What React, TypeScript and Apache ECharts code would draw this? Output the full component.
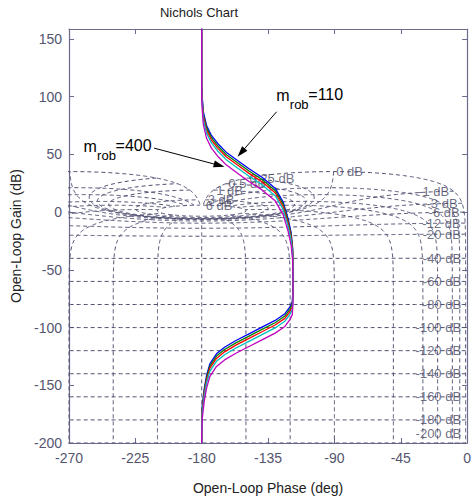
import React, { useEffect, useRef } from "react";
import * as echarts from "echarts";

// ---------- axes ----------
const phaseMin = -270;
const phaseMax = 0;
const phaseStep = 45;
const gainMin = -200;
const gainMax = 158.7;
const gainStep = 50;

// ---------- Nichols grid levels (closed-loop) ----------
const closedLoopGainsDb = [6, 3, 1, 0.5, 0.25, 0, -1, -3, -6, -12, -20, -40, -60, -80, -100, -120, -140, -160, -180, -200];
const closedLoopPhasesDeg = [-1, -5, -10, -20, -30, -50, -90, -120, -150, -180, -210, -240, -270, -310, -330, -340, -350, -355, -359];

// ---------- open-loop responses [phase deg, gain dB] ----------
const seriesNames = ["m_rob=110", "m_rob 2", "m_rob 3", "m_rob 4", "m_rob=400"];
const seriesColors = ["#0000ff", "#008000", "#ff0000", "#00bfbf", "#bf00bf"];

const curve110 = [[-180,159],[-180,110],[-179.6,99],[-178.9,87],[-176.7,75],[-173.4,66.5],[-169,59.3],[-163.4,52],[-155.7,44.8],[-147.9,37.6],[-139.1,30.3],[-130.2,20.8],[-124.7,8.7],[-121.4,-5.7],[-119.3,-18],[-118.3,-31],[-118.1,-46],[-118.1,-68],[-118.6,-78],[-120.3,-82.3],[-123.6,-88],[-130.2,-93.8],[-139.1,-99.6],[-147.9,-105.4],[-156.8,-111.2],[-164.5,-117],[-170,-122.7],[-174.5,-131.4],[-176.7,-141.5],[-178.3,-153],[-179.6,-167.5],[-180,-182],[-180,-200]];
const curve2 = [[-180,159],[-180,108],[-179.6,97],[-178.9,85],[-176.7,73],[-173.4,64.5],[-169,57.3],[-163.4,50],[-155.7,42.8],[-147.9,35.6],[-139.1,28.3],[-130.2,18.8],[-124.7,6.7],[-121.4,-7.7],[-119.3,-20],[-118.3,-33],[-118.1,-48],[-118.1,-70],[-118.6,-80],[-120.3,-84.3],[-123.6,-90],[-130.2,-95.8],[-139.1,-101.6],[-147.9,-107.4],[-156.8,-113.2],[-164.5,-119],[-170,-124.7],[-174.5,-133.4],[-176.7,-143.5],[-178.3,-155],[-179.6,-169.5],[-180,-184],[-180,-200]];
const curve3 = [[-180,159],[-180,106],[-179.6,95],[-178.9,83],[-176.7,71],[-173.4,62.5],[-169,55.3],[-163.4,48],[-155.7,40.8],[-147.9,33.6],[-139.1,26.3],[-130.2,16.8],[-124.7,4.7],[-121.4,-9.7],[-119.3,-22],[-118.3,-35],[-118.1,-50],[-118.1,-72],[-118.6,-82],[-120.3,-86.3],[-123.6,-92],[-130.2,-97.8],[-139.1,-103.6],[-147.9,-109.4],[-156.8,-115.2],[-164.5,-121],[-170,-126.7],[-174.5,-135.4],[-176.7,-145.5],[-178.3,-157],[-179.6,-171.5],[-180,-186],[-180,-200]];
const curve4 = [[-180,159],[-180,103.5],[-179.6,92.5],[-178.9,80.5],[-176.7,68.5],[-173.4,60],[-169,52.8],[-163.4,45.5],[-155.7,38.3],[-147.9,31.1],[-139.1,23.8],[-130.2,14.3],[-124.7,2.2],[-121.4,-12.2],[-119.3,-24.5],[-118.3,-37.5],[-118.1,-52.5],[-118.1,-74.5],[-118.6,-84.5],[-120.3,-88.8],[-123.6,-94.5],[-130.2,-100.3],[-139.1,-106.1],[-147.9,-111.9],[-156.8,-117.7],[-164.5,-123.5],[-170,-129.2],[-174.5,-137.9],[-176.7,-148],[-178.3,-159.5],[-179.6,-174],[-180,-188.5],[-180,-200]];
const curve400 = [[-180,159],[-180,99],[-179.6,88],[-178.9,76],[-176.7,64],[-173.4,55.5],[-169,48.3],[-163.4,41],[-155.7,33.8],[-147.9,26.6],[-139.1,19.3],[-130.2,9.8],[-124.7,-2.3],[-121.4,-16.7],[-119.3,-29],[-118.3,-42],[-118.1,-57],[-118.1,-79],[-118.6,-89],[-120.3,-93.3],[-123.6,-99],[-130.2,-104.8],[-139.1,-110.6],[-147.9,-116.4],[-156.8,-122.2],[-164.5,-128],[-170,-133.7],[-174.5,-142.4],[-176.7,-152.5],[-178.3,-164],[-179.6,-178.5],[-180,-193],[-180,-200]];
const curves = [curve110, curve2, curve3, curve4, curve400];

// ---------- annotations (data coords) ----------
const annot110Text = [-129.4, 101.5];
const annot110From = [-129.2, 87];
const annot110To = [-155.7, 48];
const annot400Text = [-260.1, 57.3];
const annot400From = [-212.3, 55.5];
const annot400To = [-164.5, 39.3];

const GRID_COLOR = "#4e4e70";
const AXIS_COLOR = "#6c6c8c";
const LABEL_COLOR = "#4a4a66";
const FONT = "Liberation Sans, Arial, sans-serif";

function openLoop(mDb: number, psiDeg: number): [number, number] {
  const m = Math.pow(10, mDb / 20);
  const psi = (psiDeg * Math.PI) / 180;
  const dr = 1 - m * Math.cos(psi);
  const di = -m * Math.sin(psi);
  const mag = m / Math.hypot(dr, di);
  const ph = psiDeg - (Math.atan2(di, dr) * 180) / Math.PI;
  return [ph, 20 * Math.log10(mag)];
}

function gainContour(mDb: number) {
  const pts: number[][] = [];
  const step = mDb <= -40 ? 2 : 0.25;
  for (let p = -1; p >= -359.0001; p -= step) pts.push(openLoop(mDb, p));
  pts.push(openLoop(mDb, -359));
  return pts;
}

function phaseContour(psi: number) {
  const gs: number[] = [];
  for (let g = -215; g < -25; g += 1) gs.push(g);
  for (let g = -25; g < -1; g += 0.05) gs.push(g);
  for (let g = -1; g < 1; g += 0.005) gs.push(g);
  for (let g = 1; g <= 6.0001; g += 0.05) gs.push(g);
  return gs.map((g) => openLoop(g, psi));
}

export default function App() {
  const ref = useRef<HTMLDivElement>(null);
  useEffect(() => {
    const chart = echarts.init(ref.current!, null, { renderer: "svg" });
    const series: any[] = [];
    closedLoopGainsDb.forEach((g) => {
      series.push({
        type: "line", data: gainContour(g), showSymbol: false, symbol: "none", silent: true, clip: true,
        lineStyle: { color: GRID_COLOR, width: 1, type: [4, 3] }, z: 1,
      });
    });
    closedLoopPhasesDeg.forEach((p) => {
      series.push({
        type: "line", data: phaseContour(p), showSymbol: false, symbol: "none", silent: true, clip: true,
        lineStyle: { color: GRID_COLOR, width: 1, type: [4, 3] }, z: 1,
      });
    });
    // gain contour labels
    series.push({
      type: "scatter", silent: true, symbol: "circle", symbolSize: 1, itemStyle: { color: "rgba(0,0,0,0)" }, z: 2,
      data: closedLoopGainsDb.map((g) => {
        const pt = openLoop(g, -1);
        const pos = g >= 0 ? "right" : "left";
        return {
          value: pt,
          label: {
            show: true, formatter: `${g} dB`, position: pos, distance: g >= 0 ? 2 : 4,
            color: LABEL_COLOR, fontSize: 13, fontFamily: FONT,
            offset: g === -200 ? [0, -10] : [0, 0],
          },
        };
      }),
    });
    curves.forEach((c, i) => {
      series.push({
        name: seriesNames[i], type: "line", data: c, showSymbol: false, symbol: "none", clip: true,
        lineStyle: { color: seriesColors[i], width: 1.3 }, z: 3,
      });
    });

    const axisCommon = {
      type: "value",
      axisLine: { show: true, onZero: false, lineStyle: { color: AXIS_COLOR, width: 1.2 } },
      axisTick: { show: true, inside: true, length: 5, lineStyle: { color: AXIS_COLOR } },
      splitLine: { show: false },
    };
    chart.setOption({
      animation: false,
      grid: { left: 69, right: 1, top: 29, bottom: 57, containLabel: false },
      xAxis: [
        {
          ...axisCommon, position: "bottom", min: phaseMin, max: phaseMax, interval: phaseStep,
          axisLabel: { color: "#55556f", fontSize: 14, fontFamily: FONT, margin: 8 },
          name: "Open-Loop Phase (deg)", nameLocation: "middle", nameGap: 38,
          nameTextStyle: { color: "#222", fontSize: 14, fontFamily: FONT },
        },
        { ...axisCommon, position: "top", min: phaseMin, max: phaseMax, interval: phaseStep, axisLabel: { show: false } },
      ],
      yAxis: [
        {
          ...axisCommon, position: "left", min: gainMin, max: gainMax, interval: gainStep,
          axisLabel: {
            color: "#55556f", fontSize: 14, fontFamily: FONT, margin: 7,
            formatter: (v: number) => (Math.abs(v % gainStep) < 1e-6 ? String(v) : ""),
          },
          name: "Open-Loop Gain (dB)", nameLocation: "middle", nameGap: 44,
          nameTextStyle: { color: "#222", fontSize: 14, fontFamily: FONT },
        },
        { ...axisCommon, position: "right", min: gainMin, max: gainMax, interval: gainStep, axisLabel: { show: false } },
      ],
      series,
    });

    const px = (p: number[]) => chart.convertToPixel({ xAxisIndex: 0, yAxisIndex: 0 }, p) as number[];
    const arrow = (from: number[], to: number[]) => {
      const a = px(from);
      const b = px(to);
      const dx = b[0] - a[0];
      const dy = b[1] - a[1];
      const len = Math.hypot(dx, dy);
      const ux = dx / len, uy = dy / len;
      const nx = -uy, ny = ux;
      const hl = 11, hw = 3.5;
      const bx = b[0] - ux * hl, by = b[1] - uy * hl;
      return [
        { type: "line", shape: { x1: a[0], y1: a[1], x2: bx + ux * 2, y2: by + uy * 2 }, style: { stroke: "#000", lineWidth: 1 }, z: 10 },
        { type: "polygon", shape: { points: [[b[0], b[1]], [bx + nx * hw, by + ny * hw], [bx - nx * hw, by - ny * hw]] }, style: { fill: "#000" }, z: 10 },
      ];
    };
    const label = (anchor: number[], value: string) => {
      const p = px(anchor);
      return [
        { type: "text", x: p[0], y: p[1], style: { text: "m", font: `16px ${FONT}`, fill: "#000", verticalAlign: "middle", align: "left" }, z: 10 },
        { type: "text", x: p[0] + 13.5, y: p[1] + 9, style: { text: "rob", font: `13px ${FONT}`, fill: "#000", verticalAlign: "middle", align: "left" }, z: 10 },
        { type: "text", x: p[0] + 32, y: p[1] - 1, style: { text: "=" + value, font: `16px ${FONT}`, fill: "#000", verticalAlign: "middle", align: "left" }, z: 10 },
      ];
    };
    chart.setOption({
      graphic: [
        { type: "text", x: 199, y: 12, style: { text: "Nichols Chart", font: `13px ${FONT}`, fill: "#222", align: "center", verticalAlign: "middle" } },
        ...label(annot110Text, "110"),
        ...arrow(annot110From, annot110To),
        ...label(annot400Text, "400"),
        ...arrow(annot400From, annot400To),
      ],
    });
    return () => chart.dispose();
  }, []);
  return <div ref={ref} style={{ position: "fixed", left: 0, top: 0, width: 474, height: 500, background: "#fff" }} />;
}
